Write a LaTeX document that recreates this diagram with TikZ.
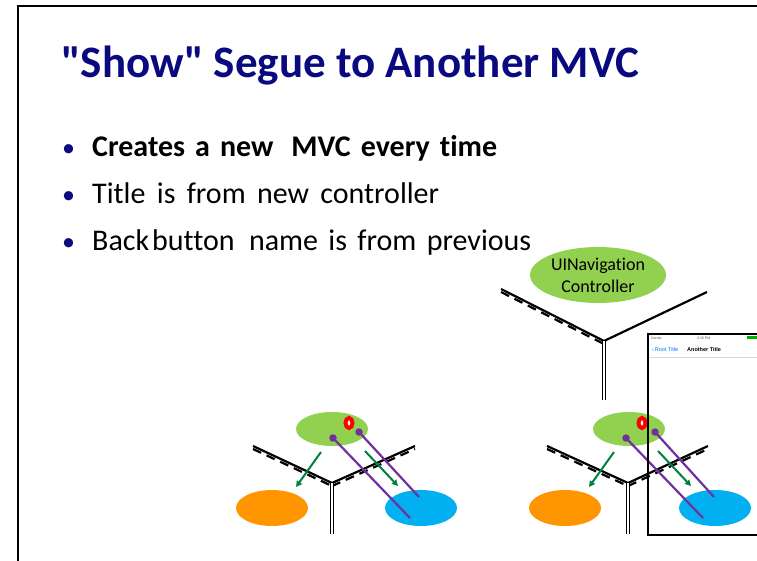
\documentclass[tikz,border=0pt]{standalone}
\usepackage{fontspec}
\setmainfont{Carlito}[Ligatures=NoCommon]
\newfontfamily\titlefont{Carlito}[Ligatures=NoCommon]
\newfontfamily\uifont{Liberation Sans}
\usetikzlibrary{arrows.meta,shapes.geometric}
\definecolor{navy}{RGB}{10,10,128}
\definecolor{mvcgreen}{RGB}{146,208,80}
\definecolor{mvcorange}{RGB}{255,150,0}
\definecolor{mvcblue}{RGB}{0,176,240}
\definecolor{arrgreen}{RGB}{0,128,64}
\definecolor{mvcpurple}{RGB}{112,48,160}
\definecolor{iosblue}{RGB}{0,122,255}
\newcommand{\gap}[1]{\hspace{#1pt}}
\tikzset{
  arm/.style={line width=2.2pt},
  dasharm/.style={line width=2.2pt, dash pattern=on 9pt off 6pt},
  stemline/.style={double, double distance=2.5pt, line width=1.2pt},
  greenarrow/.style={-{Triangle[length=6pt,width=6pt]}, line width=2pt, draw=arrgreen},
  purpleline/.style={line width=2.2pt, draw=mvcpurple},
  dot/.style={circle, fill=mvcpurple, inner sep=0pt, minimum size=7.5pt},
  redring/.style={ellipse, draw=red, fill=white, line width=4pt, minimum width=7pt, minimum height=10pt, inner sep=0pt},
  bullettext/.style={anchor=base west, inner sep=0pt, font=\fontsize{30}{34}\selectfont},
  bulletdot/.style={anchor=base west, inner sep=0pt, text=navy, font=\fontsize{26}{34}\selectfont},
}
\begin{document}
\begin{tikzpicture}[x=1pt,y=-1pt]
\useasboundingbox (0,0) rectangle (757,561);
\fill[white] (0,0) rectangle (757,561);
% slide frame
\draw[line width=2.5pt] (18,561) -- (18,6) -- (757,6);
% title
\node[anchor=base west, inner sep=0pt, text=navy, font=\titlefont\fontsize{45}{52}\selectfont\bfseries] (title) at (61,78) {"Show" Segue to Another MVC};
% bullets
\node[bulletdot] (b1) at (62,157) {•};
\node[bullettext, font=\fontsize{30}{34}\selectfont\bfseries] (t1) at (92,157) {\makebox[405pt][s]{Creates a new \gap{8}MVC every time}};
\node[bulletdot] (b2) at (62,204) {•};
\node[bullettext] (t2) at (92,204) {\makebox[347pt][s]{Title is from new controller}};
\node[bulletdot] (b3) at (62,251) {•};
\node[bullettext] (t3) at (92,251) {\makebox[439pt][s]{Back\gap{3}button \gap{4}name is from previous}};

% ---------- top navigation controller ----------
\coordinate (tl) at (501,289);
\coordinate (tj) at (604,341);
\coordinate (tr) at (707,292);
\coordinate (ts) at (604,400);
\draw[arm] (tl) -- (tj) -- (tr);
\draw[dasharm] ([yshift=-3pt]tl) -- ([yshift=-3pt]tj);
\draw[stemline] (tj) -- (ts);
\node[ellipse, fill=mvcgreen, minimum width=136pt, minimum height=56pt, inner sep=0pt, align=center, font=\fontsize{18}{22}\selectfont] (nav) at (598,275) {UINavigation\\Controller};

% ---------- phone screenshot (background) ----------
\fill[white] (648,334) rectangle (757,535);

% ---------- left group ----------
\coordinate (al) at (253,446);
\coordinate (aj) at (332,483);
\coordinate (ar) at (415,446);
\coordinate (as) at (332,534);
\draw[arm] (al) -- (aj) -- (ar);
\draw[dasharm] ([yshift=-3pt]al) -- ([yshift=-3pt]aj);
\draw[dasharm] ([yshift=-3pt]aj) -- ([yshift=-3pt]ar);
\draw[stemline] (aj) -- (as);
\node[ellipse, fill=mvcorange, minimum width=72pt, minimum height=36pt, inner sep=0pt] (ao) at (272,508) {};
\node[ellipse, fill=mvcblue, minimum width=72pt, minimum height=36pt, inner sep=0pt] (ab) at (421,508) {};
\node[ellipse, fill=mvcgreen, minimum width=72pt, minimum height=34pt, inner sep=0pt] (ag) at (332,429) {};
\node[redring] (ar1) at (349,423) {};
\coordinate (aa1s) at (321,452);
\coordinate (aa1e) at (296,487);
\coordinate (aa2s) at (365,451);
\coordinate (aa2e) at (398,486);
\draw[greenarrow] (aa1s) -- (aa1e);
\draw[greenarrow] (aa2s) -- (aa2e);
\node[dot] (ad1) at (333,438) {};
\node[dot] (ad2) at (359,432) {};
\coordinate (ae1) at (410,518);
\coordinate (ae2) at (419,497);
\draw[purpleline] (ad1.center) -- (ae1);
\draw[purpleline] (ad2.center) -- (ae2);

% ---------- right group ----------
\coordinate (bl) at (547,446);
\coordinate (bj) at (628,483);
\coordinate (br) at (708,446);
\coordinate (bs) at (628,534);
\draw[arm] (bl) -- (bj) -- (br);
\draw[dasharm] ([yshift=-3pt]bl) -- ([yshift=-3pt]bj);
\draw[dasharm] ([yshift=-3pt]bj) -- ([yshift=-3pt]br);
\draw[stemline] (bj) -- (bs);
\node[ellipse, fill=mvcorange, minimum width=72pt, minimum height=36pt, inner sep=0pt] (bo) at (565,508) {};
\node[ellipse, fill=mvcblue, minimum width=72pt, minimum height=36pt, inner sep=0pt] (bb) at (715,508) {};
\node[ellipse, fill=mvcgreen, minimum width=72pt, minimum height=34pt, inner sep=0pt] (bg) at (629,429) {};
\node[redring] (br1) at (642,423) {};
\coordinate (ba1s) at (614,452);
\coordinate (ba1e) at (589,487);
\coordinate (ba2s) at (658,451);
\coordinate (ba2e) at (691,486);
\draw[greenarrow] (ba1s) -- (ba1e);
\draw[greenarrow] (ba2s) -- (ba2e);
\node[dot] (bd1) at (626,438) {};
\node[dot] (bd2) at (655,432) {};
\coordinate (be1) at (703,518);
\coordinate (be2) at (714,497);
\draw[purpleline] (bd1.center) -- (be1);
\draw[purpleline] (bd2.center) -- (be2);

% ---------- phone screenshot content ----------
\node[anchor=base west, inner sep=0pt, font=\uifont\fontsize{3.5}{4}\selectfont, text=black!70] (carrier) at (651,339) {Carrier};
\node[anchor=base west, inner sep=0pt, font=\uifont\fontsize{3.5}{4}\selectfont, text=black!70] (time) at (697,339) {3:15 PM};
\fill[green!70!black] (747,336) rectangle (757,339);
\node[anchor=base west, inner sep=0pt, font=\uifont\fontsize{5.5}{6}\selectfont, text=iosblue] (back) at (652,351.5) {‹\,Root Title};
\node[anchor=base west, inner sep=0pt, font=\uifont\fontsize{5.5}{6}\selectfont\bfseries] (navtitle) at (687,351.5) {Another Title};
\draw[black!15, line width=0.4pt] (648,357) -- (757,357);
\draw[line width=2.5pt] (757,334) -- (648,334) -- (648,535) -- (757,535);
\end{tikzpicture}
\end{document}
